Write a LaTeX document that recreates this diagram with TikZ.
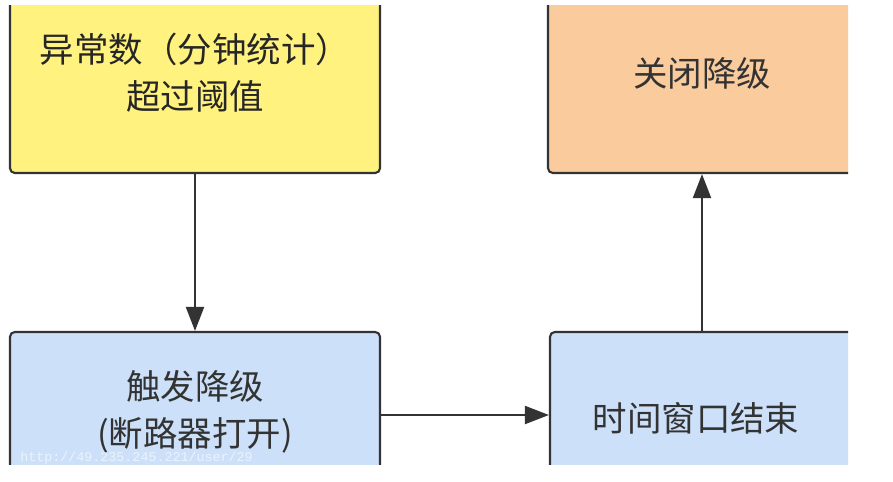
\documentclass[tikz,border=0pt]{standalone}
\usepackage{fontspec}
\usepackage{xcolor}
\usepackage{tikz}
\usetikzlibrary{arrows.meta, positioning, calc}
\newfontfamily\cjkfont{Noto Sans CJK SC}
\newfontfamily\wmfont{Liberation Mono}
\definecolor{lineGray}{HTML}{333333}
\definecolor{warnYellow}{HTML}{FFF27E}
\definecolor{offOrange}{HTML}{FACB9C}
\definecolor{stateBlue}{HTML}{CCE1F9}
\tikzset{
  flowbox/.style={draw=lineGray, line width=1.5pt, rounded corners=3.5pt,
    align=center, font=\cjkfont\fontsize{24.5}{33.5}\selectfont, text=lineGray, inner sep=0pt},
  flowarrow/.style={draw=lineGray, line width=1.5pt, -{Triangle[length=0.6cm,width=0.45cm]}}
}
\begin{document}
\begin{tikzpicture}[x=0.025cm, y=-0.025cm]
                \useasboundingbox[fill=white] (0,0) rectangle (893,481);
                \begin{scope}
                \clip (0,5) rectangle (848,464);
                \node[flowbox, fill=warnYellow, text=black!85, minimum width=9.25cm, minimum height=5cm] (warn) at (195,73) {异常数（分钟统计）\\超过阈值};
                \node[flowbox, fill=offOrange, minimum width=7.7cm, minimum height=5cm] (off) at (702,73) {关闭降级};
                \node[flowbox, fill=stateBlue, minimum width=9.25cm, minimum height=4cm] (trip) at (195,412) {触发降级\\(断路器打开)};
                \node[flowbox, fill=stateBlue, minimum width=7.75cm, minimum height=4.3cm] (win) at (705,418) {时间窗口结束\hspace{0.45cm}};
                \node[font=\wmfont\fontsize{9.5}{10}\selectfont, text=white, opacity=0.6, anchor=west, inner sep=0pt] (wm) at (20,458) {http://49.235.245.221/user/29};
                \end{scope}
                \draw[flowarrow] (warn.south) -- (warn.south |- trip.north);
                \draw[flowarrow] (trip.east |- 0,415) -- (win.west |- 0,415);
                \draw[flowarrow] (off.south |- win.north) -- (off.south);
            \end{tikzpicture}
\end{document}
